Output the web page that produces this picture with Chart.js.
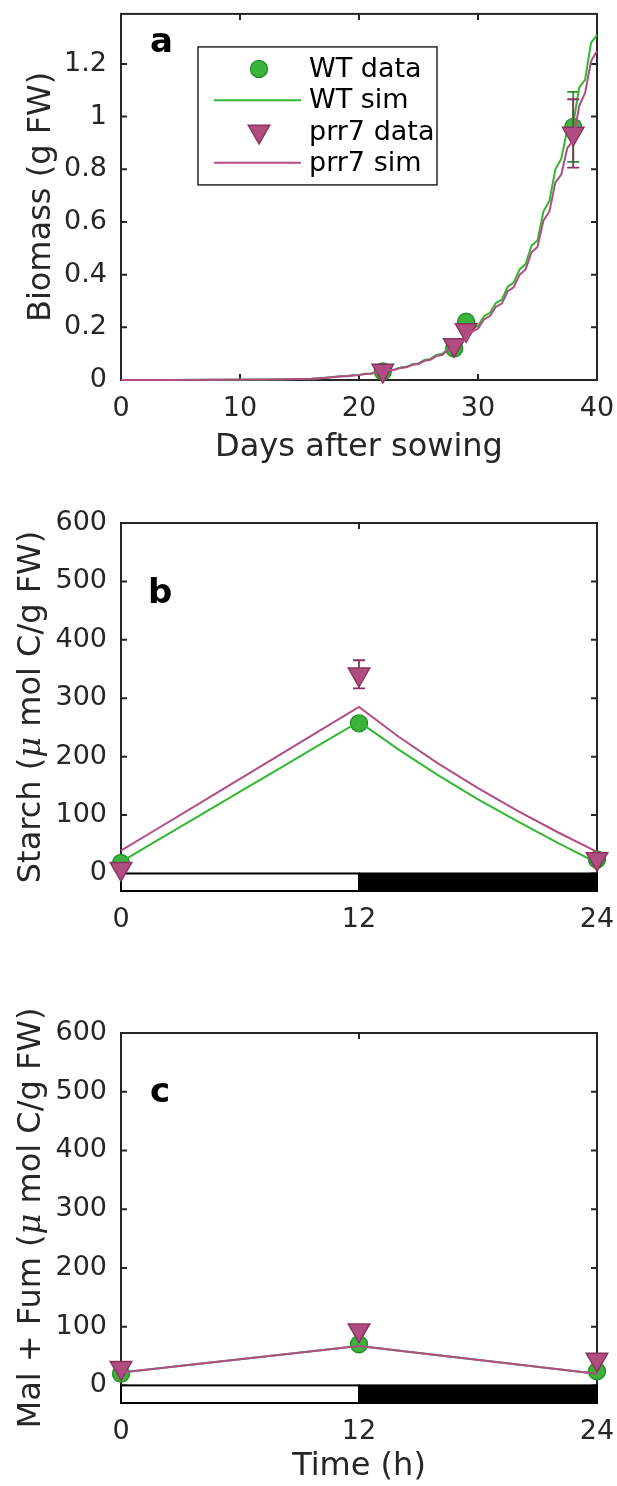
<!DOCTYPE html>
<html lang="en">
<head>
<meta charset="utf-8">
<title>Biomass, starch and Mal + Fum: WT vs prr7</title>
<script src="https://cdn.jsdelivr.net/npm/chart.js@4.4.1/dist/chart.umd.min.js"></script>
<style>
    html, body { margin: 0; padding: 0; background: #fff; }
    body { width: 617px; height: 1486px; position: relative; overflow: hidden; }
    canvas { position: absolute; left: 0; }
</style>
</head>
<body>
<canvas id="chart-a" width="617" height="470" style="top:0px"></canvas>
<canvas id="chart-b" width="617" height="490" style="top:470px"></canvas>
<canvas id="chart-c" width="617" height="526" style="top:960px"></canvas>

<script>
// ── DATA: panel a (biomass) ──────────────────────
const aDataDays = [22, 28, 29, 38];
const aWtData = [0.032, 0.120, 0.221, 0.961];
const aWtErr = [0.004, 0.010, 0.012, 0.133];
const aPrrData = [0.036, 0.133, 0.190, 0.936];
const aPrrErr = [0.004, 0.010, 0.012, 0.130];

const aSimDays = [0, 4, 8, 12, 14, 16, 17,
    18, 18.5, 19, 19.5, 20, 20.5, 21, 21.5, 22, 22.5, 23, 23.5, 24, 24.5, 25, 25.5,
    26, 26.5, 27, 27.5, 28, 28.5, 29, 29.5, 30, 30.5, 31, 31.5, 32, 32.5, 33, 33.5,
    34, 34.5, 35, 35.5, 36, 36.5, 37, 37.5, 38, 38.5, 39, 39.5, 40];
const aWtSim = [0.0002, 0.0004, 0.0008, 0.0018, 0.003, 0.005, 0.0075,
    0.012, 0.0143, 0.015, 0.018, 0.019, 0.0235, 0.025, 0.030, 0.032, 0.038, 0.040, 0.0475, 0.050, 0.060, 0.063, 0.076,
    0.080, 0.095, 0.100, 0.119, 0.125, 0.151, 0.160, 0.194, 0.205, 0.242, 0.255, 0.292, 0.305, 0.354, 0.370, 0.420,
    0.440, 0.510, 0.530, 0.640, 0.680, 0.800, 0.840, 0.950, 0.970, 1.110, 1.140, 1.280, 1.310];
const aPrrSim = [0.0002, 0.0004, 0.0008, 0.0018, 0.003, 0.005, 0.0073,
    0.0115, 0.0138, 0.0145, 0.0175, 0.0185, 0.0228, 0.024, 0.029, 0.031, 0.037, 0.039, 0.046, 0.048, 0.058, 0.061, 0.073,
    0.077, 0.091, 0.096, 0.114, 0.120, 0.144, 0.152, 0.184, 0.195, 0.230, 0.243, 0.278, 0.290, 0.337, 0.352, 0.400,
    0.420, 0.485, 0.505, 0.605, 0.640, 0.750, 0.780, 0.880, 0.910, 1.040, 1.090, 1.210, 1.250];

const aXTicks = [0, 10, 20, 30, 40];
const aYTicks = [0, 0.2, 0.4, 0.6, 0.8, 1, 1.2];

// ── DATA: panel b (starch) ───────────────────────
const bDataHours = [0, 12, 24];
const bWtData = [18, 257, 24];
const bWtErr = [4, 10, 4];
const bPrrData = [8, 341, 25];
const bPrrErr = [3, 24, 4];

const bSimHours = [0, 2, 4, 6, 8, 10, 12, 14, 16, 18, 20, 22, 24];
const bWtSim = [20, 60, 100, 140, 180, 220, 260, 212, 168, 127, 89, 53, 18];
const bPrrSim = [39, 80, 121, 162, 203, 244, 285, 234, 188, 146, 107, 71, 37];

// ── DATA: panel c (malate + fumarate) ────────────
const cDataHours = [0, 12, 24];
const cWtData = [20, 70, 24];
const cWtErr = [2, 4, 2];
const cPrrData = [30, 94, 44];
const cPrrErr = [2, 4, 3];

const cSimHours = [0, 12, 24];
const cWtSim = [22, 67, 20];
const cPrrSim = [22, 67, 20];

// shared by b and c
const hourTicks = [0, 12, 24];
const concTicks = [0, 100, 200, 300, 400, 500, 600];
const lightHours = [0, 12];
const darkHours = [12, 24];


// ── STYLE ────────────────────────────────────────
const FAMILY = "'DejaVu Sans', sans-serif";
const AXIS = '#262626';
const TICK_LEN = 6;

Chart.defaults.font.family = FAMILY;
Chart.defaults.color = AXIS;

const STYLES = {
    wtData:  { pointStyle: 'circle', radius: 8.5, rotation: 0, fill: '#3cb43c', edge: '#23902a', order: 3 },
    wtSim:   { line: '#33b833', order: 2 },
    prrData: { pointStyle: 'triangle', radius: 12.5, rotation: 180, fill: '#b04c80', edge: '#86345f', order: 1 },
    prrSim:  { line: '#b24c86', order: 0 },
};

const font = (size, weight = 'normal', style = 'normal', family = FAMILY) =>
    `${style} ${weight} ${size}px ${family}`;

const pairs = (xs, ys) => xs.map((x, i) => ({ x, y: ys[i] }));

const toDataset = (s) => {
    const st = STYLES[s.kind];
    const base = { label: s.label, data: s.data, order: st.order, clip: false, kind: s.kind,
                   errors: s.errors || null, errorColor: st.edge };
    if (st.line) {
        return { ...base, showLine: true, borderColor: st.line, borderWidth: 2,
                 pointRadius: 0, pointHoverRadius: 0, tension: 0, fill: false };
    }
    return { ...base, showLine: false, pointStyle: st.pointStyle, pointRadius: st.radius,
             pointHoverRadius: st.radius, pointRotation: st.rotation,
             backgroundColor: st.fill, borderColor: st.edge, pointBorderWidth: 1.4 };
};


// ── PANEL BUILDER ────────────────────────────────
const makePanel = (canvasId, cfg) => {

    // box, inward ticks and the light/dark bar (under the data)
    const framePlugin = {
        id: 'frame',
        beforeDatasetsDraw(chart) {
            const { ctx, chartArea: a, scales: { x, y } } = chart;
            ctx.save();
            ctx.strokeStyle = AXIS;
            ctx.lineWidth = 2;
            ctx.beginPath();
            cfg.xTicks.forEach(v => {
                const px = x.getPixelForValue(v);
                ctx.moveTo(px, a.bottom); ctx.lineTo(px, a.bottom - TICK_LEN);
                ctx.moveTo(px, a.top);    ctx.lineTo(px, a.top + TICK_LEN);
            });
            cfg.yTicks.forEach(v => {
                const py = y.getPixelForValue(v);
                ctx.moveTo(a.left, py);  ctx.lineTo(a.left + TICK_LEN, py);
                ctx.moveTo(a.right, py); ctx.lineTo(a.right - TICK_LEN, py);
            });
            ctx.stroke();
            ctx.strokeRect(a.left, a.top, a.right - a.left, a.bottom - a.top);

            if (cfg.periods) {
                const y0 = y.getPixelForValue(0);
                const l0 = x.getPixelForValue(lightHours[0]), l1 = x.getPixelForValue(lightHours[1]);
                const d0 = x.getPixelForValue(darkHours[0]), d1 = x.getPixelForValue(darkHours[1]);
                ctx.fillStyle = '#fff';
                ctx.fillRect(l0, y0, l1 - l0, a.bottom - y0);
                ctx.strokeStyle = '#000';
                ctx.lineWidth = 2;
                ctx.strokeRect(l0, y0, l1 - l0, a.bottom - y0);
                ctx.fillStyle = '#000';
                ctx.fillRect(d0, y0 - 1, d1 - d0 + 1, a.bottom - y0 + 2);
            }
            ctx.restore();
        },

        // error bars go right under their own markers
        beforeDatasetDraw(chart, args) {
            const ds = chart.data.datasets[args.index];
            if (!ds.errors) return;
            const { ctx, scales: { y } } = chart;
            ctx.save();
            ctx.strokeStyle = ds.errorColor;
            ctx.lineWidth = 1.8;
            ctx.beginPath();
            args.meta.data.forEach((pt, i) => {
                const v = ds.data[i].y, e = ds.errors[i];
                const top = y.getPixelForValue(v + e), bot = y.getPixelForValue(v - e);
                ctx.moveTo(pt.x, top); ctx.lineTo(pt.x, bot);
                ctx.moveTo(pt.x - 6, top); ctx.lineTo(pt.x + 6, top);
                ctx.moveTo(pt.x - 6, bot); ctx.lineTo(pt.x + 6, bot);
            });
            ctx.stroke();
            ctx.restore();
        },

        // panel letter, y title (with italic mu) and the legend box
        afterDraw(chart) {
            const { ctx, chartArea: a } = chart;
            ctx.save();

            ctx.fillStyle = '#000';
            ctx.font = font(34, 'bold');
            ctx.textBaseline = 'alphabetic';
            ctx.textAlign = 'left';
            ctx.fillText(cfg.letter, a.left + cfg.letterPos[0], a.top + cfg.letterPos[1]);

            ctx.save();
            ctx.translate(cfg.yTitleX, (a.top + a.bottom) / 2);
            ctx.rotate(-Math.PI / 2);
            ctx.fillStyle = AXIS;
            ctx.textBaseline = 'middle';
            const segFont = s => s.it ? font(32, 'normal', 'italic', "'DejaVu Serif', serif") : font(32);
            let total = 0;
            cfg.yTitle.forEach(s => { ctx.font = segFont(s); total += ctx.measureText(s.t).width; });
            let cx = -total / 2;
            cfg.yTitle.forEach(s => {
                ctx.font = segFont(s);
                ctx.fillText(s.t, cx, 0);
                cx += ctx.measureText(s.t).width;
            });
            ctx.restore();

            if (cfg.legend) {
                const L = cfg.legend;
                ctx.fillStyle = '#fff';
                ctx.fillRect(a.left + L.x, a.top + L.y, L.w, L.h);
                ctx.strokeStyle = AXIS;
                ctx.lineWidth = 1.5;
                ctx.strokeRect(a.left + L.x, a.top + L.y, L.w, L.h);
                chart.data.datasets.forEach((ds, i) => {
                    const st = STYLES[ds.kind];
                    const ry = a.top + L.row0 + i * L.rowStep;
                    if (st.line) {
                        ctx.strokeStyle = st.line;
                        ctx.lineWidth = 2;
                        ctx.beginPath();
                        ctx.moveTo(a.left + L.line0, ry);
                        ctx.lineTo(a.left + L.line1, ry);
                        ctx.stroke();
                    } else {
                        ctx.fillStyle = st.fill;
                        ctx.strokeStyle = st.edge;
                        ctx.lineWidth = 1.4;
                        Chart.helpers.drawPoint(ctx, { pointStyle: st.pointStyle, rotation: st.rotation,
                                                       radius: st.radius, borderWidth: 1.4 },
                                                a.left + L.sym, ry);
                    }
                    ctx.fillStyle = '#000';
                    ctx.font = font(27);
                    ctx.textBaseline = 'middle';
                    ctx.fillText(ds.label, a.left + L.text, ry + 1);
                });
            }
            ctx.restore();
        }
    };

    return new Chart(document.getElementById(canvasId), {
        type: 'scatter',
        data: { datasets: cfg.series.map(toDataset) },
        options: {
            responsive: false,
            animation: false,
            events: [],
            layout: { padding: { top: cfg.padTop, right: 20, bottom: 0, left: 0 } },
            plugins: { legend: { display: false }, tooltip: { enabled: false } },
            scales: {
                x: {
                    type: 'linear',
                    min: cfg.xMin, max: cfg.xMax,
                    grid: { display: false },
                    border: { display: false },
                    afterBuildTicks: s => { s.ticks = cfg.xTicks.map(v => ({ value: v })); },
                    ticks: { font: { size: 27 }, color: AXIS, padding: 5, maxRotation: 0, autoSkip: false,
                             callback: v => String(v) },
                    title: { display: !!cfg.xTitle, text: cfg.xTitle || '', color: AXIS,
                             font: { size: 32 }, padding: { top: 0, bottom: cfg.xTitlePad || 0 } },
                    afterFit: s => { s.height = cfg.xAxisHeight; s.paddingLeft = 0; s.paddingRight = 0; }
                },
                y: {
                    type: 'linear',
                    min: cfg.yMin, max: cfg.yMax,
                    grid: { display: false },
                    border: { display: false },
                    afterBuildTicks: s => { s.ticks = cfg.yTicks.map(v => ({ value: v })); },
                    ticks: { font: { size: 27 }, color: AXIS, padding: 6, autoSkip: false,
                             callback: v => String(Math.round(v * 100) / 100) },
                    afterFit: s => { s.width = 121; s.paddingTop = 0; s.paddingBottom = 0; }
                }
            }
        },
        plugins: [framePlugin]
    });
};


// ── PANEL a ──────────────────────────────────────
makePanel('chart-a', {
    xMin: 0, xMax: 40, xTicks: aXTicks,
    yMin: 0, yMax: 1.39, yTicks: aYTicks,
    padTop: 12, xAxisHeight: 90,
    xTitle: 'Days after sowing', xTitlePad: 3,
    yTitle: [{ t: 'Biomass (g FW)' }], yTitleX: 42,
    letter: 'a', letterPos: [29, 38],
    legend: { x: 77, y: 33, w: 239, h: 138, row0: 55, rowStep: 31.3,
              sym: 138, line0: 93, line1: 180, text: 188 },
    series: [
        { label: 'WT data', kind: 'wtData', data: pairs(aDataDays, aWtData), errors: aWtErr },
        { label: 'WT sim', kind: 'wtSim', data: pairs(aSimDays, aWtSim) },
        { label: 'prr7 data', kind: 'prrData', data: pairs(aDataDays, aPrrData), errors: aPrrErr },
        { label: 'prr7 sim', kind: 'prrSim', data: pairs(aSimDays, aPrrSim) },
    ]
});

// ── PANEL b ──────────────────────────────────────
makePanel('chart-b', {
    xMin: 0, xMax: 24, xTicks: hourTicks,
    yMin: -30, yMax: 600, yTicks: concTicks,
    padTop: 53, xAxisHeight: 69,
    yTitle: [{ t: 'Starch (' }, { t: 'μ', it: true }, { t: ' mol C/g FW)' }], yTitleX: 32,
    letter: 'b', letterPos: [27, 80],
    periods: true,
    series: [
        { label: 'WT data', kind: 'wtData', data: pairs(bDataHours, bWtData), errors: bWtErr },
        { label: 'WT sim', kind: 'wtSim', data: pairs(bSimHours, bWtSim) },
        { label: 'prr7 data', kind: 'prrData', data: pairs(bDataHours, bPrrData), errors: bPrrErr },
        { label: 'prr7 sim', kind: 'prrSim', data: pairs(bSimHours, bPrrSim) },
    ]
});

// ── PANEL c ──────────────────────────────────────
makePanel('chart-c', {
    xMin: 0, xMax: 24, xTicks: hourTicks,
    yMin: -30, yMax: 600, yTicks: concTicks,
    padTop: 73, xAxisHeight: 83,
    xTitle: 'Time (h)', xTitlePad: 0,
    yTitle: [{ t: 'Mal + Fum (' }, { t: 'μ', it: true }, { t: ' mol C/g FW)' }], yTitleX: 32,
    letter: 'c', letterPos: [29, 69],
    periods: true,
    series: [
        { label: 'WT data', kind: 'wtData', data: pairs(cDataHours, cWtData), errors: cWtErr },
        { label: 'WT sim', kind: 'wtSim', data: pairs(cSimHours, cWtSim) },
        { label: 'prr7 data', kind: 'prrData', data: pairs(cDataHours, cPrrData), errors: cPrrErr },
        { label: 'prr7 sim', kind: 'prrSim', data: pairs(cSimHours, cPrrSim) },
    ]
});
</script>
</body>
</html>
